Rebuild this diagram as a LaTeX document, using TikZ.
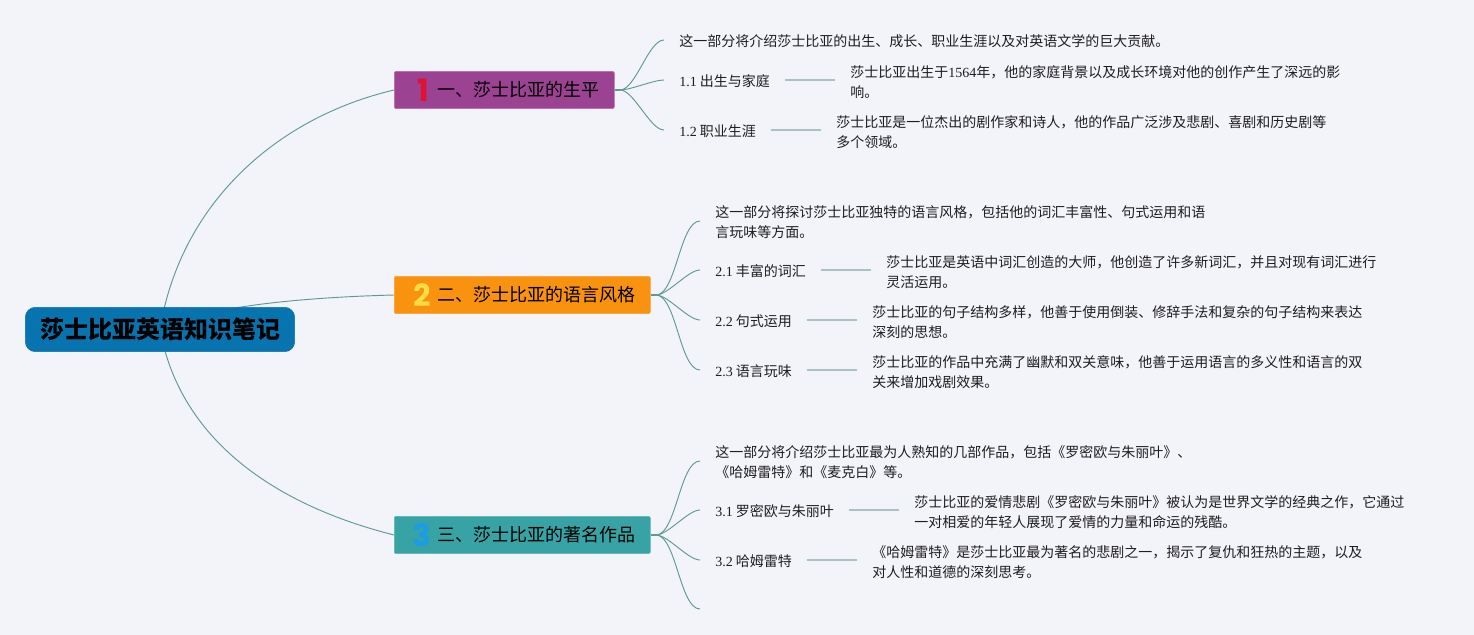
\documentclass[tikz,border=0pt]{standalone}
\usepackage{fontspec}
\setmainfont{Noto Sans CJK SC}
\newfontfamily\latfont{Liberation Serif}
\newfontfamily\iconfont{Poppins}
\usetikzlibrary{backgrounds}
\newcommand{\ltn}[1]{{\latfont #1}}
\definecolor{pagebg}{HTML}{F3F3FA}
\definecolor{rootblue}{HTML}{0874AF}
\definecolor{tpurple}{HTML}{9C4292}
\definecolor{torange}{HTML}{F9920E}
\definecolor{tteal}{HTML}{38A3A5}
\definecolor{conn}{HTML}{5F9A92}
\definecolor{connlight}{HTML}{A8C4C2}
\definecolor{inkc}{HTML}{1E1E1E}
\definecolor{iconred}{HTML}{DF1233}
\definecolor{iconyellow}{HTML}{FBDD45}
\definecolor{iconblue}{HTML}{1C9BE6}
\tikzset{
  rootbox/.style={draw=rootblue,fill=rootblue,rounded corners=7.5pt,minimum width=202pt,minimum height=33.25pt,inner sep=0pt,font=\fontsize{18}{22}\selectfont\bfseries,text=black},
  topicbox/.style={anchor=west,rounded corners=1pt,minimum height=28pt,inner xsep=0pt,inner ysep=0pt,align=left,font=\fontsize{13.5}{16}\selectfont,text=black},
  iconnum/.style={font=\iconfont\fontsize{23}{24}\selectfont\bfseries,inner sep=0pt},
  leaftext/.style={anchor=west,inner xsep=11.25pt,inner ysep=1pt,align=left,font=\fontsize{10.5}{15}\selectfont,text=inkc},
  fan/.style={conn,line width=0.7pt,out=0,in=180,looseness=0.6},
  hub/.style={conn,line width=1.6pt},
  trunk/.style={conn,line width=0.7pt},
  stem/.style={connlight,line width=1pt}
}
\begin{document}
\begin{tikzpicture}[x=0.75pt,y=-0.75pt]
\useasboundingbox (0,0) rectangle (1474,635);
\begin{scope}[on background layer]
  \fill[pagebg] (0,0) rectangle (1474,635);
\end{scope}

\node[rootbox] (root) at (160,329.5) {莎士比亚英语知识笔记};

\node[topicbox,fill=tpurple,draw=tpurple!75!white,text width=165pt] (t1) at (394,90) {\hspace*{32.25pt}一、莎士比亚的生平};
\node[topicbox,fill=torange,draw=torange!85!white,text width=192pt] (t2) at (394,295) {\hspace*{32.25pt}二、莎士比亚的语言风格};
\node[topicbox,fill=tteal,draw=tteal!80!white,text width=192pt] (t3) at (394,535) {\hspace*{32.25pt}三、莎士比亚的著名作品};
\node[iconnum,text=iconred] (i1) at (423,90) {1};
\node[iconnum,text=iconyellow] (i2) at (422,295) {2};
\node[iconnum,text=iconblue] (i3) at (422,535) {3};
\coordinate (h1) at (620,90);
\coordinate (h2) at (656,295);
\coordinate (h3) at (656,535);

% topic 1
\node[leaftext] (a0) at (664,41) {这一部分将介绍莎士比亚的出生、成长、职业生涯以及对英语文学的巨大贡献。};
\node[leaftext] (a1) at (664,81) {\ltn{1.1} 出生与家庭};
\node[leaftext] (a1d) at (835,82) {莎士比亚出生于\ltn{1564}年，他的家庭背景以及成长环境对他的创作产生了深远的影\\响。};
\node[leaftext] (a2) at (664,131) {\ltn{1.2} 职业生涯};
\node[leaftext] (a2d) at (821,132) {莎士比亚是一位杰出的剧作家和诗人，他的作品广泛涉及悲剧、喜剧和历史剧等\\多个领域。};

% topic 2
\node[leaftext] (b0) at (700,222) {这一部分将探讨莎士比亚独特的语言风格，包括他的词汇丰富性、句式运用和语\\言玩味等方面。};
\node[leaftext] (b1) at (700,271) {\ltn{2.1} 丰富的词汇};
\node[leaftext] (b1d) at (871,272) {莎士比亚是英语中词汇创造的大师，他创造了许多新词汇，并且对现有词汇进行\\灵活运用。};
\node[leaftext] (b2) at (700,321) {\ltn{2.2} 句式运用};
\node[leaftext] (b2d) at (857,322) {莎士比亚的句子结构多样，他善于使用倒装、修辞手法和复杂的句子结构来表达\\深刻的思想。};
\node[leaftext] (b3) at (700,371) {\ltn{2.3} 语言玩味};
\node[leaftext] (b3d) at (857,372) {莎士比亚的作品中充满了幽默和双关意味，他善于运用语言的多义性和语言的双\\关来增加戏剧效果。};

% topic 3
\node[leaftext] (c0) at (700,462) {这一部分将介绍莎士比亚最为人熟知的几部作品，包括《罗密欧与朱丽叶》、\\《哈姆雷特》和《麦克白》等。};
\node[leaftext] (c1) at (700,511) {\ltn{3.1} 罗密欧与朱丽叶};
\node[leaftext] (c1d) at (899,512) {莎士比亚的爱情悲剧《罗密欧与朱丽叶》被认为是世界文学的经典之作，它通过\\一对相爱的年轻人展现了爱情的力量和命运的残酷。};
\node[leaftext] (c2) at (700,561) {\ltn{3.2} 哈姆雷特};
\node[leaftext] (c2d) at (857,562) {《哈姆雷特》是莎士比亚最为著名的悲剧之一，揭示了复仇和狂热的主题，以及\\对人性和道德的深刻思考。};
\coordinate (c3) at (700,609);

\begin{scope}[on background layer]
  \draw[trunk] (root.center) .. controls (180,205) and (275,118) .. (t1.west);
  \draw[trunk] (root.center) .. controls (195,310) and (280,298) .. (t2.west);
  \draw[trunk] (root.center) .. controls (180,440) and (275,505) .. (t3.west);
  \foreach \s in {1,2,3}
    \draw[hub] (t\s.east) -- (h\s);
  \foreach \s/\e in {h1/a0,h1/a1,h1/a2,h2/b0,h2/b1,h2/b2,h2/b3,h3/c0,h3/c1,h3/c2}
    \draw[fan] (\s) to ([yshift=0.75pt]\e.west);
  \draw[fan] (h3) to (c3);
  \foreach \s/\e in {a1/a1d,a2/a2d,b1/b1d,b2/b2d,b3/b3d,c1/c1d,c2/c2d}
    \draw[stem] ([yshift=0.75pt]\s.east) -- ([yshift=0.75pt]\e.west |- \s.east);
\end{scope}
\end{tikzpicture}
\end{document}
